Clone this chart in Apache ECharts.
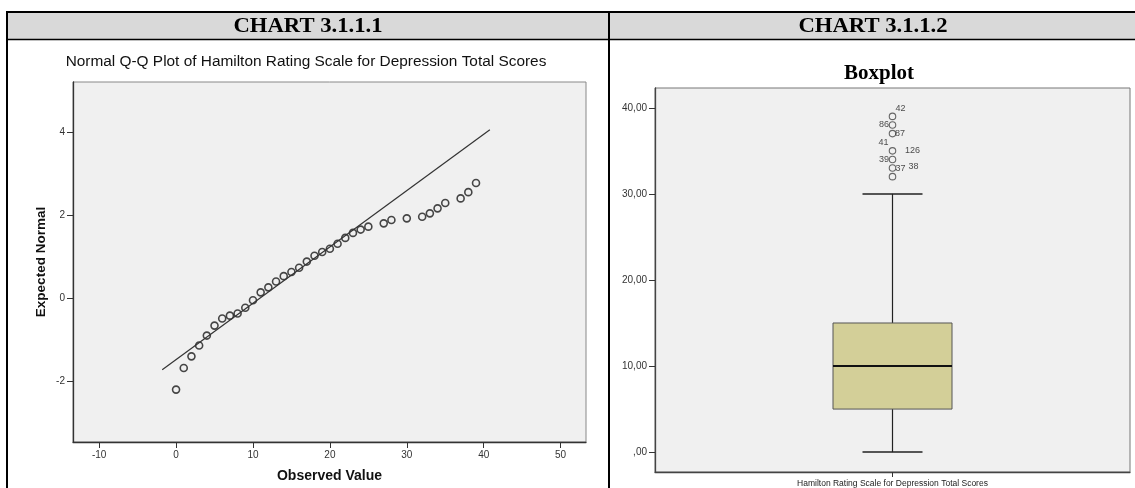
<!DOCTYPE html>
<html><head><meta charset="utf-8">
<script src="https://cdn.jsdelivr.net/npm/echarts@6/dist/echarts.min.js"></script>
<style>html,body{margin:0;padding:0;background:#fff}#c{width:1135px;height:488px}</style>
</head><body><div id="c"></div>
<script>
// ---- data ----
const qqObserved = [0,1,2,3,4,5,6,7,8,9,10,11,12,13,14,15,16,17,18,19,20,21,22,23,24,25,27,28,30,32,33,34,35,37,38,39];
const qqExpected = [-2.20,-1.68,-1.40,-1.14,-0.90,-0.66,-0.49,-0.42,-0.37,-0.23,-0.05,0.14,0.26,0.40,0.53,0.63,0.73,0.88,1.02,1.11,1.19,1.31,1.45,1.57,1.65,1.72,1.80,1.88,1.92,1.96,2.04,2.16,2.29,2.40,2.55,2.77];
const refLineObserved = [-1.8, 40.8];
const refLineExpected = [-1.72, 4.05];
const qqXTicks = [-10,0,10,20,30,40,50];
const qqYTicks = [-2,0,2,4];
const boxCategory = ['Hamilton Rating Scale for Depression Total Scores'];
const boxStats = [0,5,10,15,30]; // min, Q1, median, Q3, max
const outlierValues = [32,33,34,35,37,38,39];
const caseIds = ['42','86','87','41','126','39','37','38'];
const caseValues = [39,38,37,35,35,34,33,33];
const boxYTicks = [0,10,20,30,40];
const boxYTickLabels = [',00','10,00','20,00','30,00','40,00'];

// ---- styles (pixel offsets for case labels) ----
const caseLabelOffsets = [[8,-8],[-8.5,0],[7.5,0],[-9,-8],[20,0],[-8.5,0],[8,0],[21,-2]];

const SANS = 'Liberation Sans, Arial, sans-serif';
const SERIF = 'Liberation Serif, Times New Roman, serif';

const chart = echarts.init(document.getElementById('c'), null, {renderer:'canvas'});
const option = {
  animation: false,
  backgroundColor: '#fff',
  graphic: [
    {type:'rect', shape:{x:7,y:12,width:1128,height:27}, style:{fill:'#d9d9d9'}, z:-1},
    {type:'line', shape:{x1:6,y1:12,x2:1135,y2:12}, style:{stroke:'#000',lineWidth:2}},
    {type:'line', shape:{x1:7,y1:39.5,x2:1135,y2:39.5}, style:{stroke:'#000',lineWidth:1.5}},
    {type:'line', shape:{x1:7,y1:11,x2:7,y2:488}, style:{stroke:'#000',lineWidth:2}},
    {type:'line', shape:{x1:609,y1:11,x2:609,y2:488}, style:{stroke:'#000',lineWidth:2}},
    {type:'text', x:308, y:26, scaleX:1.03, style:{text:'CHART 3.1.1.1', font:'bold 22px '+SERIF, fill:'#000', textAlign:'center', textVerticalAlign:'middle'}},
    {type:'text', x:873, y:26, scaleX:1.03, style:{text:'CHART 3.1.1.2', font:'bold 22px '+SERIF, fill:'#000', textAlign:'center', textVerticalAlign:'middle'}},
    {type:'text', x:306, y:62, style:{text:'Normal Q-Q Plot of Hamilton Rating Scale for Depression Total Scores', font:'15.4px '+SANS, fill:'#111', textAlign:'center', textVerticalAlign:'middle'}},
    {type:'text', x:879, y:74, style:{text:'Boxplot', font:'bold 21px '+SERIF, fill:'#000', textAlign:'center', textVerticalAlign:'middle'}}
  ],
  grid: [
    {left:73, top:82, width:513, height:361, show:true, backgroundColor:'#f0f0f0', borderColor:'#888', borderWidth:1},
    {left:655, top:88, width:475, height:386, show:true, backgroundColor:'#f0f0f0', borderColor:'#777', borderWidth:1}
  ],
  xAxis: [
    {gridIndex:0, type:'value', min:-13.4, max:53.3,
     name:'Observed Value', nameLocation:'middle', nameGap:27,
     nameTextStyle:{fontFamily:SANS, fontWeight:'bold', fontSize:14, color:'#111'},
     axisLine:{show:true, onZero:false, lineStyle:{color:'#333', width:1.3}},
     axisTick:{show:true, length:6, customValues:qqXTicks, lineStyle:{color:'#333'}},
     axisLabel:{customValues:qqXTicks, fontFamily:SANS, fontSize:10, color:'#333', margin:8},
     splitLine:{show:false}},
    {gridIndex:1, type:'category', data:boxCategory, boundaryGap:true,
     axisLine:{show:true, onZero:false, lineStyle:{color:'#444', width:1.3}},
     axisTick:{show:true, alignWithLabel:true, length:5, lineStyle:{color:'#333'}},
     axisLabel:{fontFamily:SANS, fontSize:8.5, color:'#222', margin:7},
     splitLine:{show:false}}
  ],
  yAxis: [
    {gridIndex:0, type:'value', min:-3.46, max:5.2,
     name:'Expected Normal', nameLocation:'middle', nameGap:25, nameRotate:90,
     nameTextStyle:{fontFamily:SANS, fontWeight:'bold', fontSize:13.5, color:'#111'},
     axisLine:{show:true, onZero:false, lineStyle:{color:'#333', width:1.3}},
     axisTick:{show:true, length:6, customValues:qqYTicks, lineStyle:{color:'#333'}},
     axisLabel:{customValues:qqYTicks, fontFamily:SANS, fontSize:10, color:'#333', margin:8},
     splitLine:{show:false}},
    {gridIndex:1, type:'value', min:-2.31, max:42.3,
     axisLine:{show:true, onZero:false, lineStyle:{color:'#444', width:1.3}},
     axisTick:{show:true, length:6, customValues:boxYTicks, lineStyle:{color:'#333'}},
     axisLabel:{customValues:boxYTicks, fontFamily:SANS, fontSize:10, color:'#333', margin:8,
       formatter:(v)=>{const i=boxYTicks.indexOf(v); return i>=0?boxYTickLabels[i]:'';}},
     splitLine:{show:false}}
  ],
  series: [
    {type:'line', xAxisIndex:0, yAxisIndex:0, symbol:'none', silent:true,
     data: refLineObserved.map((x,i)=>[x, refLineExpected[i]]),
     lineStyle:{color:'#333', width:1.2}},
    {type:'scatter', xAxisIndex:0, yAxisIndex:0, symbol:'circle', symbolSize:7,
     data: qqObserved.map((x,i)=>[x, qqExpected[i]]),
     itemStyle:{color:'rgba(0,0,0,0)', borderColor:'#1a1a1a', borderWidth:1.6}},
    {type:'custom', xAxisIndex:1, yAxisIndex:1,
     data:[[0].concat(boxStats)],
     encode:{x:0, y:[1,2,3,4,5]},
     renderItem:(params, api)=>{
       const c = api.value(0);
       const pMin = api.coord([c, api.value(1)]);
       const pQ1 = api.coord([c, api.value(2)]);
       const pMed = api.coord([c, api.value(3)]);
       const pQ3 = api.coord([c, api.value(4)]);
       const pMax = api.coord([c, api.value(5)]);
       const cx = pMed[0], hw = 59.5, cw = 30;
       const ls = {stroke:'#222', lineWidth:1.2};
       return {type:'group', children:[
         {type:'line', shape:{x1:cx,y1:pQ1[1],x2:cx,y2:pMin[1]}, style:ls},
         {type:'line', shape:{x1:cx,y1:pQ3[1],x2:cx,y2:pMax[1]}, style:ls},
         {type:'line', shape:{x1:cx-cw,y1:pMin[1],x2:cx+cw,y2:pMin[1]}, style:{stroke:'#222',lineWidth:1.5}},
         {type:'line', shape:{x1:cx-cw,y1:pMax[1],x2:cx+cw,y2:pMax[1]}, style:{stroke:'#222',lineWidth:1.5}},
         {type:'rect', shape:{x:cx-hw,y:pQ3[1],width:2*hw,height:pQ1[1]-pQ3[1]}, style:{fill:'#d3cf98', stroke:'#555', lineWidth:1}},
         {type:'line', shape:{x1:cx-hw,y1:pMed[1],x2:cx+hw,y2:pMed[1]}, style:{stroke:'#111',lineWidth:2}}
       ]};
     }},
    {type:'scatter', xAxisIndex:1, yAxisIndex:1, symbol:'circle', symbolSize:6.5,
     data: outlierValues.map(v=>[0, v]),
     itemStyle:{color:'rgba(0,0,0,0)', borderColor:'#444', borderWidth:1.1}},
    {type:'scatter', xAxisIndex:1, yAxisIndex:1, symbolSize:0, silent:true,
     data: caseIds.map((id,i)=>({name:id, value:[0, caseValues[i]],
       label:{show:true, position:'inside', offset:caseLabelOffsets[i], formatter:'{b}',
              fontFamily:SANS, fontSize:9, color:'#222'}}))}
  ]
};
chart.setOption(option);
</script></body></html>
